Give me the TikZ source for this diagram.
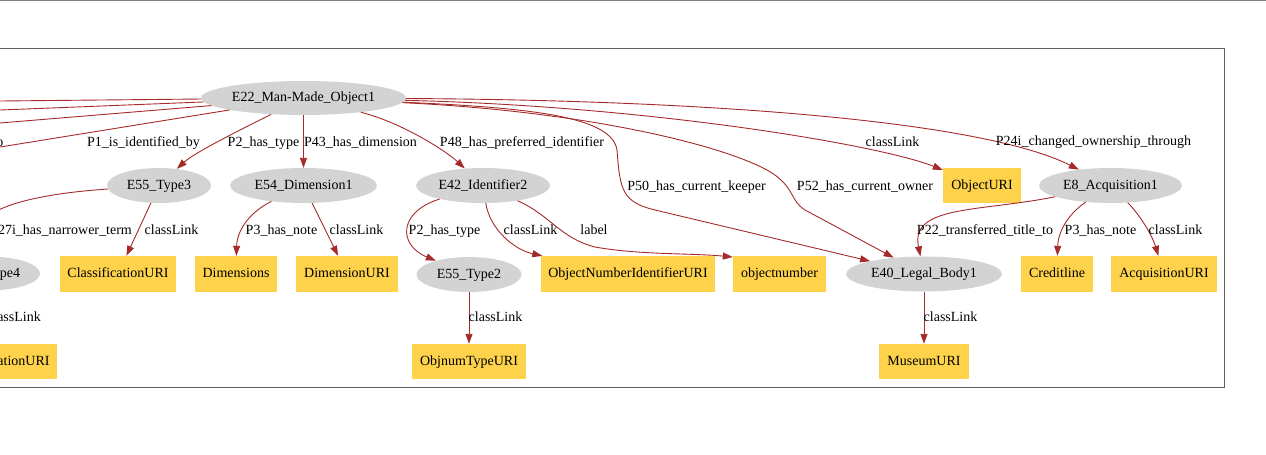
\documentclass[tikz,border=0pt]{standalone}
\usepackage{fontspec}
\setmainfont{Liberation Serif}
\usetikzlibrary{shapes.geometric,arrows.meta}
\definecolor{edgec}{RGB}{165,42,42}
\definecolor{ellc}{RGB}{211,211,211}
\definecolor{boxc}{RGB}{254,211,75}
\definecolor{framec}{RGB}{128,128,128}
\definecolor{boxframe}{RGB}{95,95,95}
\begin{document}
\begin{tikzpicture}[x=1pt,y=-1pt,
  every node/.style={font=\fontsize{14}{16}\selectfont},
  ent/.style={ellipse, fill=ellc, draw=none, inner sep=0pt, text height=10.7pt, text depth=3pt},
  lit/.style={rectangle, fill=boxc, draw=none, inner sep=0pt, text height=10.7pt, text depth=3pt},
  lbl/.style={anchor=base, inner sep=0pt},
  lble/.style={anchor=base east, inner sep=0pt},
  rel/.style={draw=edgec, line width=0.9pt, -{Triangle[length=10pt,width=7pt]}},
  plainrel/.style={draw=edgec, line width=0.9pt}]
\useasboundingbox (0,0) rectangle (1266,455);
\clip (0,0) rectangle (1266,455);
% frame
\draw[framec, line width=1pt] (0,0.5) -- (1266,0.5);
\draw[boxframe, line width=1.5pt] (-10,48.5) -- (1224.5,48.5) -- (1224.5,387.5) -- (-10,387.5);
% nodes
\node[ent, minimum width=205pt, minimum height=34pt] (e22) at (303.5,98) {E22\_Man-Made\_Object1};
\node[ent, minimum width=104pt, minimum height=35pt] (t3) at (159,185.5) {E55\_Type3};
\node[ent, minimum width=147pt, minimum height=35pt] (d1) at (303.5,185.5) {E54\_Dimension1};
\node[ent, minimum width=134pt, minimum height=35pt] (i2) at (483,185.5) {E42\_Identifier2};
\node[lit, minimum width=78pt, minimum height=35pt] (ouri) at (982,185.5) {ObjectURI};
\node[ent, minimum width=143pt, minimum height=35pt] (acq) at (1110.5,185.5) {E8\_Acquisition1};
\node[ent, minimum width=104pt, minimum height=34pt] (t4) at (-12,273.5) {E55\_Type4};
\node[lit, minimum width=116pt, minimum height=36pt] (curi) at (118,274) {ClassificationURI};
\node[lit, minimum width=82pt, minimum height=36pt] (dims) at (236,274) {Dimensions};
\node[lit, minimum width=102pt, minimum height=36pt] (duri) at (347,274) {DimensionURI};
\node[ent, minimum width=105pt, minimum height=35pt] (t2) at (469,274.5) {E55\_Type2};
\node[lit, minimum width=174pt, minimum height=36pt] (oniuri) at (628,274) {ObjectNumberIdentifierURI};
\node[lit, minimum width=93pt, minimum height=36pt] (onum) at (779.5,274) {objectnumber};
\node[ent, minimum width=156pt, minimum height=35pt] (lb) at (924,274) {E40\_Legal\_Body1};
\node[lit, minimum width=72pt, minimum height=36pt] (cred) at (1057,274) {Creditline};
\node[lit, minimum width=106pt, minimum height=36pt] (auri) at (1164,274) {AcquisitionURI};
\node[lit, minimum width=116pt, minimum height=35pt] (curi2) at (-1,361.5) {ClassificationURI};
\node[lit, minimum width=114pt, minimum height=35pt] (otu) at (469,361.5) {ObjnumTypeURI};
\node[lit, minimum width=90pt, minimum height=35pt] (muri) at (924,361.5) {MuseumURI};
% off-picture ends
\coordinate (la) at (-50,101.5);
\coordinate (lb2) at (-50,112);
\coordinate (lc) at (-50,127.1);
\coordinate (ld) at (-50,155.1);
% edges
\draw[plainrel] (e22) -- (la);
\draw[plainrel] (e22) -- (lb2);
\draw[plainrel] (e22) -- (lc);
\draw[plainrel] (e22) -- (ld);
\draw[rel] (e22) .. controls (250,125) and (195,152) .. (t3);
\draw[rel] (e22) -- (d1);
\draw[rel] (e22) .. controls (400,122) and (445,150) .. (i2);
\draw[rel] (e22) .. controls (540,108) and (612,118) .. (617,150) .. controls (620,190) and (622,202) .. (655,210) -- (lb);
\draw[rel] (e22) .. controls (600,112) and (740,150) .. (775,175) .. controls (795,190) and (790,200) .. (805,210) -- (lb);
\draw[rel] (e22) .. controls (650,106) and (880,145) .. (ouri);
\draw[rel] (e22) .. controls (700,100) and (980,120) .. (acq);
\draw[rel] (t3) .. controls (50,193) and (-40,205) .. (t4);
\draw[rel] (t3) -- (curi);
\draw[rel] (d1) .. controls (250,212) and (237,230) .. (dims);
\draw[rel] (d1) -- (duri);
\draw[rel] (i2) .. controls (398,212) and (398,245) .. (t2);
\draw[rel] (i2) .. controls (490,230) and (515,250) .. (oniuri);
\draw[rel] (i2) .. controls (550,215) and (560,238) .. (595,247) .. controls (640,255) and (690,253) .. (onum.160);
\draw[rel] (acq) .. controls (980,212) and (910,205) .. (lb);
\draw[rel] (acq) .. controls (1068,214) and (1058,232) .. (cred);
\draw[rel] (acq) .. controls (1140,215) and (1152,235) .. (auri);
\draw[rel] (t2) -- (otu);
\draw[rel] (lb) -- (muri);
% labels
\node[lble] (l0) at (3.5,146.7) {o};
\node[lbl] (l1) at (143.5,146.7) {P1\_is\_identified\_by};
\node[lbl] (l2) at (263.5,146.7) {P2\_has\_type};
\node[lbl] (l3) at (360.5,146.7) {P43\_has\_dimension};
\node[lbl] (l4) at (522,146.2) {P48\_has\_preferred\_identifier};
\node[lbl] (l5) at (696.5,190.7) {P50\_has\_current\_keeper};
\node[lbl] (l6) at (865,190.7) {P52\_has\_current\_owner};
\node[lbl] (l7) at (892.5,146.7) {classLink};
\node[lbl] (l8) at (1093.5,145.7) {P24i\_changed\_ownership\_through};
\node[lble] (l9) at (132,234.2) {P127i\_has\_narrower\_term};
\node[lbl] (l10) at (171.5,234.2) {classLink};
\node[lbl] (l11) at (281.5,234.2) {P3\_has\_note};
\node[lbl] (l12) at (356.5,234.2) {classLink};
\node[lbl] (l13) at (444.5,234.2) {P2\_has\_type};
\node[lbl] (l14) at (530.5,234.2) {classLink};
\node[lbl] (l15) at (594,234.2) {label};
\node[lbl] (l16) at (985,234.2) {P22\_transferred\_title\_to};
\node[lbl] (l17) at (1100.5,234.2) {P3\_has\_note};
\node[lbl] (l18) at (1175.5,234.2) {classLink};
\node[lble] (l19) at (41,321.7) {classLink};
\node[lbl] (l20) at (495.5,321.7) {classLink};
\node[lbl] (l21) at (950.5,321.7) {classLink};
\end{tikzpicture}
\end{document}
